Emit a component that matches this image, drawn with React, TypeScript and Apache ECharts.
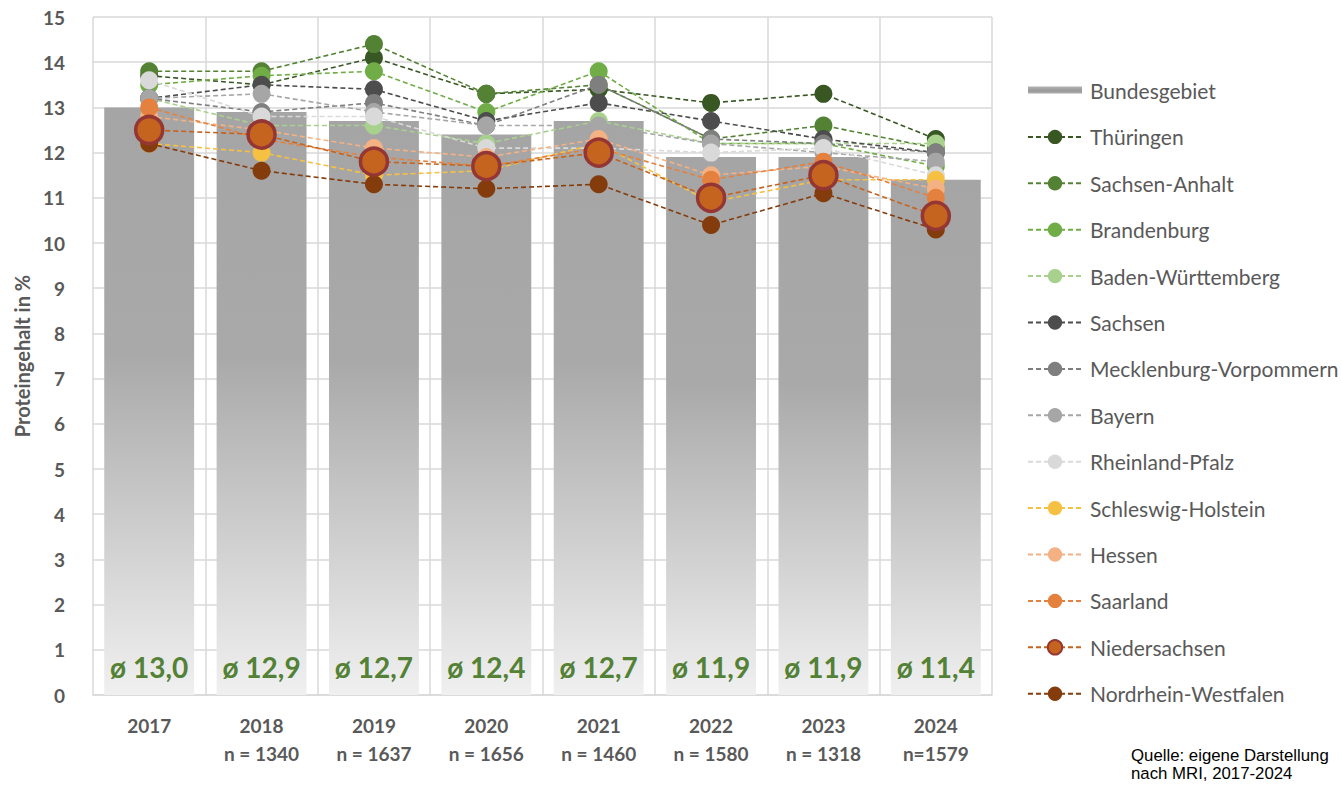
import React, { useEffect, useRef } from "react";
import * as echarts from "echarts";

const years = ["2017", "2018", "2019", "2020", "2021", "2022", "2023", "2024"];
const sampleSizes = ["", "n = 1340", "n = 1637", "n = 1656", "n = 1460", "n = 1580", "n = 1318", "n=1579"];
const bundesgebiet = [13.0, 12.9, 12.7, 12.4, 12.7, 11.9, 11.9, 11.4];

const thueringen = [13.7, 13.5, 14.1, 13.3, 13.4, 13.1, 13.3, 12.3];
const sachsenAnhalt = [13.8, 13.8, 14.4, 13.3, 13.5, 12.3, 12.6, 12.1];
const brandenburg = [13.5, 13.7, 13.8, 12.9, 13.8, 12.2, 12.2, 11.7];
const badenWuerttemberg = [13.2, 12.6, 12.6, 12.2, 12.7, 12.2, 12.2, 12.2];
const sachsen = [13.2, 13.5, 13.4, 12.7, 13.1, 12.7, 12.3, 12.0];
const mecklenburg = [13.2, 12.9, 13.1, 12.6, 13.5, 12.3, 12.2, 12.0];
const bayern = [13.2, 13.3, 12.9, 12.6, 12.6, 12.2, 12.0, 11.8];
const rheinlandPfalz = [13.6, 12.8, 12.8, 12.1, 12.1, 12.0, 12.1, 11.5];
const schleswigHolstein = [12.2, 12.0, 11.5, 11.6, 12.2, 10.9, 11.4, 11.4];
const hessen = [12.8, 12.5, 12.1, 11.9, 12.3, 11.5, 11.7, 11.2];
const saarland = [13.0, 12.3, 11.9, 11.7, 12.1, 11.4, 11.8, 11.0];
const niedersachsen = [12.5, 12.4, 11.8, 11.7, 12.0, 11.0, 11.5, 10.6];
const nrw = [12.2, 11.6, 11.3, 11.2, 11.3, 10.4, 11.1, 10.3];

const yTicks = [0, 15, 1];

const states = [
  { name: "Thüringen", data: thueringen, color: "#385723" },
  { name: "Sachsen-Anhalt", data: sachsenAnhalt, color: "#548235" },
  { name: "Brandenburg", data: brandenburg, color: "#70ad47" },
  { name: "Baden-Württemberg", data: badenWuerttemberg, color: "#a9d18e" },
  { name: "Sachsen", data: sachsen, color: "#4d4d4d" },
  { name: "Mecklenburg-Vorpommern", data: mecklenburg, color: "#7f7f7f" },
  { name: "Bayern", data: bayern, color: "#a6a6a6" },
  { name: "Rheinland-Pfalz", data: rheinlandPfalz, color: "#d9d9d9" },
  { name: "Schleswig-Holstein", data: schleswigHolstein, color: "#f6c143" },
  { name: "Hessen", data: hessen, color: "#f4b183" },
  { name: "Saarland", data: saarland, color: "#e5813f" },
  { name: "Niedersachsen", data: niedersachsen, color: "#c5641f", border: "#943634" },
  { name: "Nordrhein-Westfalen", data: nrw, color: "#843c0c" },
];

const FONT = "Lato, 'Noto Sans', sans-serif";
const TEXT = "#595959";

export default function App() {
  const ref = useRef<HTMLDivElement>(null);

  useEffect(() => {
    if (!ref.current) return;
    const chart = echarts.init(ref.current, null, { renderer: "svg" });

    const lineSeries = states.map((s) => {
      const big = !!s.border;
      return {
        name: s.name,
        type: "line",
        data: s.data,
        z: big ? 5 : 3,
        symbol: "circle",
        symbolSize: big ? 27 : 18,
        lineStyle: { color: s.color, width: 1.6, type: [5, 3] },
        itemStyle: big
          ? { color: s.color, borderColor: s.border, borderWidth: 3.5 }
          : { color: s.color, borderWidth: 0 },
      };
    });

    const option = {
      animation: false,
      textStyle: { fontFamily: FONT },
      grid: { left: 93, right: 350, top: 17, bottom: 90 },
      legend: {
        orient: "vertical",
        left: 1022,
        top: 75,
        itemWidth: 54,
        itemHeight: 18,
        itemGap: 25.4,
        textStyle: { fontFamily: FONT, fontSize: 21, color: TEXT, lineHeight: 20, padding: [0, 0, 0, 3] },
        data: [
          {
            name: "Bundesgebiet",
            icon: "path://M0,0L0.01,0M0,5H54V12H0ZM0,18L0.01,18",
            itemStyle: {
              color: new echarts.graphic.LinearGradient(0, 0, 0, 1, [
                { offset: 0, color: "#d0d0d0" },
                { offset: 0.5, color: "#9a9a9a" },
                { offset: 1, color: "#d0d0d0" },
              ]),
            },
          },
          ...states.map((s) => ({ name: s.name })),
        ],
      },
      xAxis: {
        type: "category",
        data: years.map((y, i) => (sampleSizes[i] ? y + "\n" + sampleSizes[i] : y)),
        axisLine: { lineStyle: { color: "#d9d9d9", width: 1.5 } },
        axisTick: { show: false },
        splitLine: { show: true, lineStyle: { color: "#d9d9d9", width: 1.5 } },
        axisLabel: {
          color: TEXT,
          fontFamily: FONT,
          fontWeight: "bold",
          fontSize: 19,
          lineHeight: 28,
          margin: 16,
        },
      },
      yAxis: {
        type: "value",
        min: yTicks[0],
        max: yTicks[1],
        interval: yTicks[2],
        name: "Proteingehalt in %",
        nameLocation: "middle",
        nameGap: 60,
        nameTextStyle: { color: TEXT, fontFamily: FONT, fontWeight: "bold", fontSize: 20 },
        axisLine: { show: false },
        axisTick: { show: false },
        splitLine: { lineStyle: { color: "#d9d9d9", width: 1.5 } },
        axisLabel: { color: TEXT, fontFamily: FONT, fontWeight: "bold", fontSize: 19, margin: 28 },
      },
      series: [
        {
          name: "Bundesgebiet",
          type: "bar",
          data: bundesgebiet,
          barCategoryGap: "20%",
          z: 1,
          itemStyle: {
            color: new echarts.graphic.LinearGradient(0, 0, 0, 1, [
              { offset: 0, color: "#a5a5a5" },
              { offset: 0.42, color: "#a9a9a9" },
              { offset: 1, color: "#f0f0f0" },
            ]),
          },
          label: {
            show: true,
            position: "insideBottom",
            distance: 14,
            formatter: (p: any) => "ø " + p.value.toFixed(1).replace(".", ","),
            color: "#538135",
            fontFamily: FONT,
            fontWeight: "bold",
            fontSize: 28,
          },
        },
        ...lineSeries,
      ],
      graphic: [
        {
          type: "text",
          left: 1131,
          top: 746,
          style: {
            text: "Quelle: eigene Darstellung\nnach MRI, 2017-2024",
            fontFamily: "'Liberation Sans', Arial, sans-serif",
            fontSize: 16.8,
            lineHeight: 18,
            fill: "#000",
          },
        },
      ],
    };

    chart.setOption(option as any);
    return () => chart.dispose();
  }, []);

  return <div ref={ref} style={{ width: 1342, height: 785, position: "absolute", left: 0, top: 0 }} />;
}
